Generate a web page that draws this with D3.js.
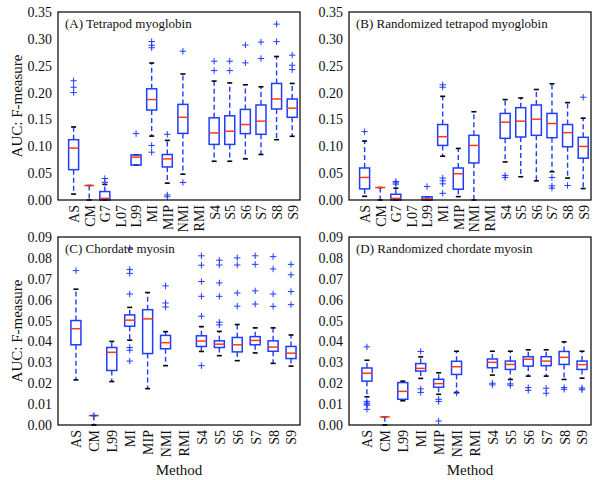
<!DOCTYPE html>
<html><head><meta charset="utf-8">
<script src="https://cdn.jsdelivr.net/npm/d3@7"></script>
<style>body{margin:0;background:#fff}svg{display:block}text{font-family:"Liberation Serif","DejaVu Serif",serif;fill:#111}</style>
</head><body>
<script>
const catsAB = ["AS","CM","G7","L07","L99","MI","MIP","NMI","RMI","S4","S5","S6","S7","S8","S9"];
const catsCD = ["AS","CM","L99","MI","MIP","NMI","RMI","S4","S5","S6","S7","S8","S9"];
const ticksAB = [0,0.05,0.10,0.15,0.20,0.25,0.30,0.35];
const ticksCD = [0,0.01,0.02,0.03,0.04,0.05,0.06,0.07,0.08,0.09];

// [whisker low, q1, median, q3, whisker high] per category (null = no data)
const statsA = [
  [.011,.0565,.0966,.1123,.136],[0,.027,.027,.027,.027],[0,0,.003,.0157,.029],null,
  [.065,.065,.0797,.084,.084],[.119,.1675,.187,.207,.255],[.0314,.0615,.0765,.0847,.111],
  [.048,.124,.154,.178,.2346],null,[.0721,.1035,.1248,.153,.2214],[.0721,.1035,.128,.1568,.218],
  [.0765,.1236,.1405,.1687,.2145],[.0847,.1223,.1468,.1769,.2108],[.1123,.1694,.188,.217,.2672],
  [.1186,.154,.171,.188,.217]];
const outA = [[.222,.21,.20],[],[.04,.033],[],[.1236],[.295,.288,.2835,.1016,.089],[.1223,.0094,.006],
  [.277,.0326],[],[.2584,.2409],[.2584,.2409],[.2885,.2553],[.294,.2634],[.3274,.2948],[.2697,.2509,.2427]];

const statsB = [
  [.0069,.0207,.042,.0596,.1098],[0,.0232,.0232,.0232,.0232],[0,0,.003,.0107,.022],null,
  [0,0,.002,.006,.006],[.0815,.1016,.1179,.1405,.193],[.0063,.0201,.0489,.0596,.096],
  [0,.069,.1016,.1204,.1643],null,[.0709,.1148,.1449,.1612,.187],[.0433,.1173,.1468,.1719,.19],
  [.0357,.1204,.1505,.1769,.2057],[.0527,.116,.1424,.1612,.2164],[.0408,.0991,.1254,.1405,.1813],
  [.0213,.0778,.0997,.1167,.1524]];
const outB = [[.1273],[],[.0345,.032,.0295],[],[.025],[.2145,.21,.0408,.0357,.0301,.0125],[],[],[],
  [.0458,.042],[],[],[.042,.0263,.022],[.027],[.1913]];

const statsC = [
  [.0216,.0384,.0461,.05,.065],[0,.0045,.0045,.0045,.0045],[.0208,.0261,.0348,.0371,.04],
  [.0406,.0473,.0502,.0527,.0563],[.0174,.0342,.0508,.0552,.0634],[.0284,.0365,.0394,.0429,.0447],
  null,[.0352,.0376,.0402,.0427,.0471],[.0332,.0371,.0387,.0403,.0448],[.0308,.035,.0384,.0419,.0481],
  [.0345,.0384,.0405,.0423,.0465],[.0295,.0353,.0373,.0403,.0465],[.0282,.0318,.0344,.0376,.0431]];
const outC = [[.0739],[.0046],[],[.0847,.0745,.0726,.0627,.0371,.0358,.0306],[],[.0666,.0584,.0565],[],
  [.081,.0765,.0687,.0616,.0521,.0284],[.0789,.0766,.068,.0616,.0492,.0479],[.08,.0766,.0632,.0569],
  [.081,.0769,.0642,.0579],[.0806,.0747,.0627,.0568],[.0769,.0719,.0639,.0576]];

const statsD = [
  [.0135,.021,.0248,.0273,.031],[0,.0039,.0039,.0039,.0039],[.0116,.0123,.0161,.0203,.021],
  [.0223,.0258,.0271,.0294,.0326],[.0147,.0181,.0198,.0219,.025],[.0156,.0242,.0279,.0305,.0353],
  null,[.0239,.0274,.03,.0316,.0353],[.0218,.0266,.029,.0306,.0353],[.0234,.0282,.0315,.0327,.036],
  [.0234,.0284,.0306,.0327,.036],[.0218,.029,.0324,.0352,.0398],[.0224,.0266,.0289,.0306,.0353]];
const outD = [[.0374,.0113,.0105,.01,.0095,.0075],[],[],[.0352,.0173,.0156],[.0123,.0113,.0019],[.0153],[],
  [.02,.0192],[.0197,.019],[.0179,.0166],[.0176,.0152],[.0179,.0171],[.0177,.0169]];

const titles = ["(A) Tetrapod myoglobin","(B) Randomized tetrapod myoglobin","(C) Chordate myosin","(D) Randomized chordate myosin"];

const BLUE = "#1f3cff", RED = "#ff3a1a";
const svg = d3.select("body").append("svg").attr("width",600).attr("height",480);

const panels = [
  {x0:58,x1:300,y0:12,y1:200,cats:catsAB,ymax:0.35,ticks:ticksAB,stats:statsA,out:outA,t:titles[0],ylab:true,xlab:false},
  {x0:349,x1:591,y0:12,y1:200,cats:catsAB,ymax:0.35,ticks:ticksAB,stats:statsB,out:outB,t:titles[1],ylab:false,xlab:false},
  {x0:58,x1:300,y0:237,y1:425,cats:catsCD,ymax:0.09,ticks:ticksCD,stats:statsC,out:outC,t:titles[2],ylab:true,xlab:true},
  {x0:349,x1:591,y0:237,y1:425,cats:catsCD,ymax:0.09,ticks:ticksCD,stats:statsD,out:outD,t:titles[3],ylab:false,xlab:true}
];

panels.forEach(p => {
  const n = p.cats.length;
  const x = d3.scaleLinear().domain([0, n+0.5]).range([p.x0,p.x1]);
  const y = d3.scaleLinear().domain([0,p.ymax]).range([p.y1,p.y0]);
  const g = svg.append("g");
  const bw = 10, cw = 5;

  p.stats.forEach((s,i) => {
    if (!s) return;
    const cx = x(i+1);
    const [lo,q1,md,q3,hi] = s;
    g.append("line").attr("x1",cx).attr("x2",cx).attr("y1",y(q3)).attr("y2",y(hi))
      .attr("stroke",BLUE).attr("stroke-width",1.4).attr("stroke-dasharray","5,3");
    g.append("line").attr("x1",cx).attr("x2",cx).attr("y1",y(q1)).attr("y2",y(lo))
      .attr("stroke",BLUE).attr("stroke-width",1.4).attr("stroke-dasharray","5,3");
    [lo,hi].forEach(v => g.append("line").attr("x1",cx-cw/2).attr("x2",cx+cw/2).attr("y1",y(v)).attr("y2",y(v))
      .attr("stroke","#000").attr("stroke-width",1.6));
    g.append("rect").attr("x",cx-bw/2).attr("width",bw).attr("y",y(q3)).attr("height",Math.max(0,y(q1)-y(q3)))
      .attr("fill","none").attr("stroke",BLUE).attr("stroke-width",1.5);
    g.append("line").attr("x1",cx-bw/2).attr("x2",cx+bw/2).attr("y1",y(md)).attr("y2",y(md))
      .attr("stroke",RED).attr("stroke-width",1.5);
  });
  p.out.forEach((arr,i) => {
    const cx = x(i+1);
    arr.forEach(v => {
      const yy = y(v), h = 3.2;
      g.append("path").attr("d",`M${cx-h},${yy}H${cx+h}M${cx},${yy-h}V${yy+h}`)
        .attr("stroke",BLUE).attr("stroke-width",1).attr("fill","none");
    });
  });

  svg.append("rect").attr("x",p.x0).attr("y",p.y0).attr("width",p.x1-p.x0).attr("height",p.y1-p.y0)
    .attr("fill","none").attr("stroke","#000").attr("stroke-width",1.2);

  const ya = svg.append("g").attr("transform",`translate(${p.x0},0)`)
    .call(d3.axisLeft(y).tickValues(p.ticks).tickFormat(d3.format(".2f")).tickSize(0).tickPadding(6));
  ya.select(".domain").remove();
  ya.selectAll("text").style("font-family",'"Liberation Serif",serif').style("font-size","14px").attr("fill","#111");

  const xa = svg.append("g").attr("transform",`translate(0,${p.y1})`)
    .call(d3.axisBottom(x).tickValues(d3.range(1,n+1)).tickFormat(i => p.cats[i-1]).tickSize(0));
  xa.select(".domain").remove();
  xa.selectAll("text").style("font-family",'"Liberation Serif",serif').style("font-size","14px").attr("fill","#111")
    .attr("text-anchor","end").attr("transform","rotate(-90)").attr("x",-5).attr("y",0).attr("dy","0.35em");

  svg.append("text").attr("x",p.x0+7).attr("y",p.y0+16).text(p.t).style("font-size","13px");
  if (p.ylab) svg.append("text").attr("transform",`translate(22,${(p.y0+p.y1)/2}) rotate(-90)`)
    .attr("text-anchor","middle").text("AUC: F-measure").style("font-size","15px");
  if (p.xlab) svg.append("text").attr("x",(p.x0+p.x1)/2).attr("y",475)
    .attr("text-anchor","middle").text("Method").style("font-size","15px");
});
</script>
</body></html>
